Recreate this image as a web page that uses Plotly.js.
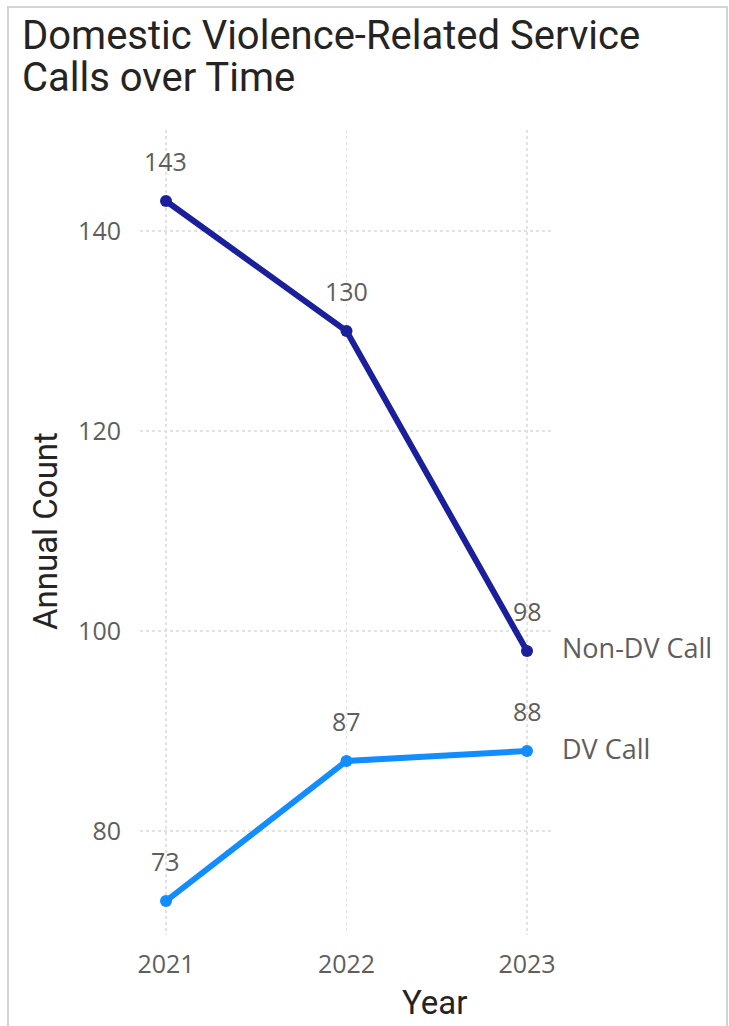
<!DOCTYPE html>
<html>
<head>
<meta charset="utf-8">
<script src="https://cdn.plot.ly/plotly-3.0.1.min.js"></script>
<style>
  html, body { margin: 0; padding: 0; background: #fff; }
  #frame { position: absolute; left: 7px; top: 6px; width: 721px; height: 1040px; border: 2px solid #d4d4d4; box-sizing: border-box; }
  #chart { position: absolute; left: 0; top: 0; width: 729px; height: 1026px; }
</style>
</head>
<body>
<div id="frame"></div>
<div id="chart"></div>
<script>
const years = [2021, 2022, 2023];
const nonDvCalls = [143, 130, 98];
const dvCalls = [73, 87, 88];
const seriesNames = ["Non-DV Call", "DV Call"];
const yTicks = [80, 100, 120, 140];
const titleLines = ["Domestic Violence-Related Service", "Calls over Time"];

const W = 729, H = 1026;
const M = { l: 140, r: 176, t: 130, b: 91 };
const PW = W - M.l - M.r, PH = H - M.t - M.b;
const px = v => (v - M.l) / PW;
const py = v => (H - M.b - v) / PH;

const navy = "#1A1F9C";
const blue = "#118DFF";
const labelFont = { family: "Open Sans, Noto Sans, sans-serif", size: 25, color: "#605E5C" };
const seriesFont = { family: "Open Sans, Noto Sans, sans-serif", size: 27, color: "#605E5C" };
const headFont = { family: "Roboto, sans-serif", size: 40, color: "#252423" };
const axisTitleFont = { family: "Roboto, sans-serif", size: 33, color: "#252423" };

const traces = [
  { x: years, y: nonDvCalls, name: seriesNames[0], type: "scatter", mode: "lines+markers",
    line: { color: navy, width: 6 }, marker: { color: navy, size: 12 } },
  { x: years, y: dvCalls, name: seriesNames[1], type: "scatter", mode: "lines+markers",
    line: { color: blue, width: 6 }, marker: { color: blue, size: 12 } }
];

const annotations = [];
[nonDvCalls, dvCalls].forEach(arr => {
  arr.forEach((v, i) => {
    annotations.push({ x: years[i], y: v, xref: "x", yref: "y", text: String(v), showarrow: false,
      xanchor: "center", yanchor: "middle", yshift: 40, font: labelFont });
  });
});
annotations.push({ x: years[2], y: nonDvCalls[2], xref: "x", yref: "y", text: seriesNames[0], showarrow: false,
  xanchor: "left", yanchor: "middle", xshift: 33, yshift: 4, font: seriesFont });
annotations.push({ x: years[2], y: dvCalls[2], xref: "x", yref: "y", text: seriesNames[1], showarrow: false,
  xanchor: "left", yanchor: "middle", xshift: 33, yshift: 3, font: seriesFont });
annotations.push({ x: px(45), y: py(531), xref: "paper", yref: "paper", text: "Annual Count", showarrow: false,
  xanchor: "center", yanchor: "middle", textangle: -90, font: axisTitleFont });
annotations.push({ x: px(434), y: py(1003), xref: "paper", yref: "paper", text: "Year", showarrow: false,
  xanchor: "center", yanchor: "middle", font: axisTitleFont });
annotations.push({ x: px(20), y: py(36), xref: "paper", yref: "paper", text: titleLines[0], showarrow: false,
  xanchor: "left", yanchor: "middle", font: headFont });
annotations.push({ x: px(20), y: py(77), xref: "paper", yref: "paper", text: titleLines[1], showarrow: false,
  xanchor: "left", yanchor: "middle", font: headFont });

const layout = {
  width: W, height: H,
  margin: M,
  paper_bgcolor: "rgba(0,0,0,0)", plot_bgcolor: "rgba(0,0,0,0)",
  showlegend: false,
  xaxis: {
    type: "linear", range: [2020.856, 2023.144], tickvals: years, ticktext: years.map(String),
    showgrid: true, gridcolor: "#e2e2e2", griddash: "dot", gridwidth: 1.5, zeroline: false, showline: false,
    ticks: "", tickfont: labelFont, ticklabelstandoff: 12
  },
  yaxis: {
    range: [69.6, 150.1], tickvals: yTicks, showgrid: true, gridcolor: "#e2e2e2", griddash: "dot", gridwidth: 1.5,
    zeroline: false, showline: false, ticks: "", tickfont: labelFont, ticklabelstandoff: 18
  },
  annotations: annotations
};

Plotly.newPlot("chart", traces, layout, { displayModeBar: false, staticPlot: true });
</script>
</body>
</html>
